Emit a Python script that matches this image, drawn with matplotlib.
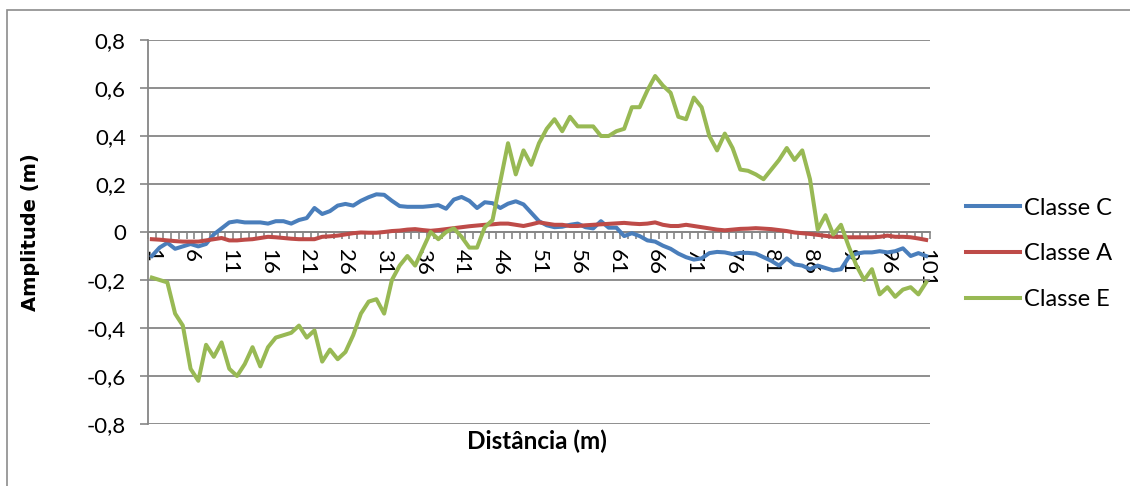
import numpy as np
import matplotlib
matplotlib.use('Agg')
import matplotlib.pyplot as plt
from matplotlib.patches import Rectangle
from matplotlib.ticker import FuncFormatter, FixedLocator

plt.rcParams['font.family'] = ['Lato', 'DejaVu Sans']

# distance index (m)
distancia = np.arange(1, 102)

classe_c = [-0.10, -0.065, -0.045, -0.07, -0.06, -0.05, -0.06, -0.05, -0.01, 0.015,
            0.04, 0.045, 0.04, 0.04, 0.04, 0.035, 0.045, 0.045, 0.035, 0.05,
            0.058, 0.10, 0.075, 0.087, 0.11, 0.117, 0.11, 0.13, 0.145, 0.157,
            0.155, 0.13, 0.108, 0.105, 0.105, 0.105, 0.108, 0.112, 0.097, 0.135,
            0.146, 0.13, 0.10, 0.124, 0.12, 0.10, 0.118, 0.128, 0.115, 0.08,
            0.045, 0.028, 0.02, 0.022, 0.03, 0.035, 0.02, 0.015, 0.045, 0.018,
            0.018, -0.017, -0.005, -0.017, -0.035, -0.04, -0.057, -0.07, -0.09, -0.105,
            -0.115, -0.11, -0.088, -0.083, -0.085, -0.092, -0.087, -0.087, -0.09, -0.105,
            -0.12, -0.14, -0.11, -0.135, -0.14, -0.155, -0.14, -0.15, -0.16, -0.155,
            -0.105, -0.09, -0.085, -0.085, -0.08, -0.085, -0.08, -0.068, -0.10, -0.088,
            -0.10]

classe_a = [-0.03, -0.032, -0.035, -0.038, -0.04, -0.04, -0.04, -0.035, -0.03, -0.025,
            -0.035, -0.035, -0.032, -0.03, -0.025, -0.02, -0.022, -0.025, -0.028, -0.03,
            -0.03, -0.03, -0.02, -0.018, -0.015, -0.01, -0.005, -0.002, -0.003, -0.003,
            0.0, 0.004, 0.006, 0.01, 0.012, 0.008, 0.005, 0.008, 0.012, 0.016,
            0.02, 0.024, 0.027, 0.03, 0.032, 0.035, 0.035, 0.03, 0.025, 0.032,
            0.04, 0.035, 0.03, 0.03, 0.025, 0.025, 0.028, 0.03, 0.032, 0.034,
            0.036, 0.038, 0.035, 0.033, 0.035, 0.04, 0.03, 0.025, 0.025, 0.03,
            0.025, 0.02, 0.015, 0.01, 0.007, 0.01, 0.013, 0.014, 0.016, 0.014,
            0.012, 0.008, 0.004, -0.002, -0.005, -0.008, -0.012, -0.016, -0.02, -0.02,
            -0.022, -0.022, -0.022, -0.022, -0.02, -0.015, -0.02, -0.02, -0.022, -0.027,
            -0.033]

classe_e = [-0.19, -0.20, -0.21, -0.34, -0.39, -0.57, -0.62, -0.47, -0.52, -0.46,
            -0.57, -0.60, -0.55, -0.48, -0.56, -0.48, -0.44, -0.43, -0.42, -0.39,
            -0.44, -0.41, -0.54, -0.49, -0.53, -0.50, -0.43, -0.34, -0.29, -0.28,
            -0.34, -0.20, -0.14, -0.10, -0.14, -0.07, 0.0, -0.03, 0.0, 0.015,
            -0.02, -0.065, -0.065, 0.02, 0.05, 0.21, 0.37, 0.24, 0.34, 0.28,
            0.37, 0.43, 0.47, 0.42, 0.48, 0.44, 0.44, 0.44, 0.40, 0.40,
            0.42, 0.43, 0.52, 0.52, 0.59, 0.65, 0.61, 0.58, 0.48, 0.47,
            0.56, 0.52, 0.40, 0.34, 0.41, 0.35, 0.26, 0.255, 0.24, 0.22,
            0.26, 0.30, 0.35, 0.30, 0.34, 0.22, 0.01, 0.07, -0.01, 0.03,
            -0.06, -0.14, -0.20, -0.155, -0.26, -0.23, -0.27, -0.24, -0.23, -0.26,
            -0.21]

series = [('Classe C', classe_c, '#4A7EBB'),
          ('Classe A', classe_a, '#BE4B48'),
          ('Classe E', classe_e, '#98B954')]

grid_col = '#868686'

fig = plt.figure(figsize=(11.3, 4.86), dpi=100)
ax = fig.add_axes([148 / 1130, 1 - 424 / 486, (930 - 148) / 1130, (424 - 40) / 486])

# outer chart frame
fig.patches.append(Rectangle((7 / 1130, -0.1), 1.2, 1.1 - 10 / 486,
                             transform=fig.transFigure, fill=False,
                             edgecolor='#8c8c8c', linewidth=1.2))

for nome, vals, cor in series:
    ax.plot(distancia, vals, color=cor, linewidth=2.9, label=nome,
            solid_joinstyle='round', zorder=3)

ax.set_xlim(0.5, 101.5)
ax.set_ylim(-0.8, 0.8)

ax.set_yticks(np.arange(-0.8, 0.81, 0.2))
ax.yaxis.set_major_formatter(FuncFormatter(
    lambda v, p: '0' if abs(v) < 1e-9 else ('%.1f' % v).replace('.', ',')))
ax.grid(axis='y', color=grid_col, linewidth=1.3)
ax.set_axisbelow(True)

ax.spines['top'].set_visible(False)
ax.spines['right'].set_visible(False)
ax.spines['left'].set_color(grid_col)
ax.spines['left'].set_linewidth(1.3)
ax.spines['bottom'].set_position(('data', 0))
ax.spines['bottom'].set_color(grid_col)
ax.spines['bottom'].set_linewidth(1.3)

ax.xaxis.set_major_locator(FixedLocator(distancia[::5]))
ax.set_xticklabels([str(d) for d in distancia[::5]])
ax.xaxis.set_minor_locator(FixedLocator(np.arange(0.5, 102, 1.0)))
ax.tick_params(axis='x', which='major', length=0, pad=12, labelsize=16,
               labelrotation=270)
ax.tick_params(axis='x', which='minor', length=5, width=1.2, color=grid_col,
               direction='out')
for lbl in ax.get_xticklabels():
    lbl.set_va('top')
    lbl.set_ha('center')
ax.tick_params(axis='y', length=6, width=1.2, color=grid_col, labelsize=16, pad=10)

ax.set_ylabel('Amplitude (m)', fontsize=14, fontweight='bold',
              family='DejaVu Sans')
ax.yaxis.set_label_coords(-0.138, 0.5)
fig.text(537 / 1130, 1 - 441 / 486, 'Distância (m)', fontsize=17.5,
         fontweight='bold', ha='center', va='center')

fig.legend(loc='center left', bbox_to_anchor=(966 / 1130, 1 - 254 / 486),
           frameon=False, fontsize=17, handlelength=2.3, handletextpad=0.15,
           labelspacing=1.05, borderpad=0, borderaxespad=0)

fig.savefig('out.png', dpi=100)
